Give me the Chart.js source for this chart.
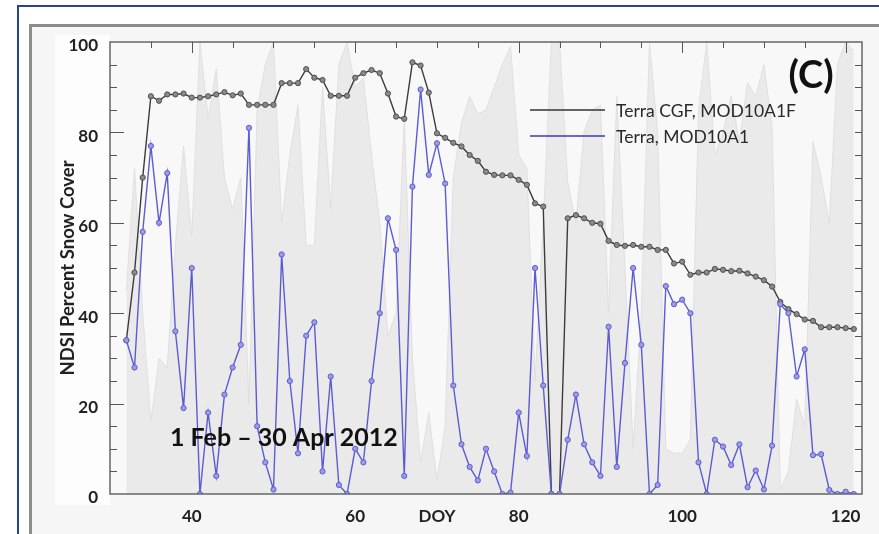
<!DOCTYPE html>
<html>
<head>
<meta charset="utf-8">
<script src="https://cdn.jsdelivr.net/npm/chart.js@4.4.1/dist/chart.umd.min.js"></script>
<style>
  html, body { margin: 0; padding: 0; background: #fff; }
  #wrap { position: relative; width: 879px; height: 534px; overflow: hidden; }
  #outer { position: absolute; left: 17px; top: 5px; width: 900px; height: 600px; border: 2px solid #2a4488; }
  #inner { position: absolute; left: 29px; top: 24px; width: 900px; height: 600px;
           border-left: 3px solid #8c8c8c; border-top: 3px solid #8c8c8c; background: #f6f6f6; }
  #labelbox { position: absolute; left: 55px; top: 35px; width: 55px; height: 470px; background: #fdfdfd; }
  canvas { position: absolute; left: 0; top: 0; }
</style>
</head>
<body>
<div id="wrap">
  <div id="outer"></div>
  <div id="inner"></div>
  <div id="labelbox"></div>
  <canvas id="chart" width="879" height="534"></canvas>
</div>
<script>
// day of year, 1 Feb (32) .. 30 Apr (121) 2012
const firstDoy = 32;

// Terra CGF, MOD10A1F (black)
const cgfValues = [
  34, 49, 70, 88, 87, 88.4, 88.4, 88.6, 87.7, 87.7,
  88, 88.4, 88.9, 88.2, 88.6, 86.1, 86.1, 86.1, 86.1, 90.9,
  90.9, 90.9, 94, 92.1, 91.6, 88.1, 88.1, 88.1, 92.1, 93.1,
  93.8, 93.1, 88.6, 83.5, 83, 95.5, 94.8, 88.8, 79.8, 78.8,
  77.7, 76.9, 75, 73.7, 71.3, 70.6, 70.5, 70.5, 69.5, 68.4,
  64.3, 63.6, 0, 0, 61, 61.7, 61, 60, 59.8, 56,
  55.1, 54.9, 55.1, 54.7, 54.7, 54, 54, 51, 51.4, 48.5,
  49, 49, 49.8, 49.6, 49.3, 49.4, 48.8, 48.1, 47.3, 45.9,
  42.5, 40.9, 39.8, 38.6, 38.3, 36.9, 36.9, 36.9, 36.7, 36.5
];

// Terra, MOD10A1 (blue)
const modValues = [
  34, 28, 58, 77, 60, 71, 36, 19, 50, 0,
  18, 4, 22, 28, 33, 81, 15, 7, 1, 53,
  25, 9, 35, 38, 5, 26, 2, 0, 10, 7,
  25, 40, 61, 54, 4, 68, 89.5, 70.6, 77.6, 68.7,
  24, 11, 6, 3, 10, 5, 0, 0.3, 18, 8.4,
  50, 24, 0, 0, 12, 22, 11, 7, 4, 37,
  6, 29, 50, 33, 0, 2, 46, 42, 43, 40,
  7, 0, 12, 10.5, 6.4, 11, 1.5, 5.2, 1, 10.7,
  42, 40, 26, 32, 8.6, 8.8, 0.9, 0, 0.5, 0
];

// light grey background series (cloud)
const cloudValues = [
  45, 72, 40, 16, 30, 28, 55, 77, 57, 100,
  83, 94, 70, 63, 70, 20, 85, 95, 100, 60,
  75, 86, 55, 55, 90, 63, 95, 100, 90, 92,
  75, 60, 35, 40, 83, 30, 7, 18, 3, 15,
  70, 82, 88, 84, 85, 90, 95, 99, 75, 72,
  25, 60, 100, 100, 69, 60, 80, 85, 86, 40,
  88, 50, 10, 40, 100, 80, 10, 9, 9, 12,
  85, 100, 75, 80, 88, 78, 91, 88, 95, 81,
  1, 5, 21, 15, 78, 70, 60, 95, 100, 98
];

const xTickLabels = { 40: '40', 60: '60', 70: 'DOY', 80: '80', 100: '100', 120: '120' };
const yTickLabels = [0, 20, 40, 60, 80, 100];

const legendItems = [
  { label: 'Terra CGF, MOD10A1F', color: '#333333' },
  { label: 'Terra, MOD10A1', color: '#3b3bb0' }
];

const toPoints = arr => arr.map((v, i) => ({ x: firstDoy + i, y: v }));

const decor = {
  id: 'decor',
  beforeDraw(chart) {
    const { ctx, chartArea: a } = chart;
    ctx.save();
    ctx.fillStyle = '#f8f8f8';
    ctx.fillRect(a.left, a.top, a.right - a.left, a.bottom - a.top);
    ctx.restore();
  },
  afterDatasetsDraw(chart) {
    const { ctx, chartArea: a, scales } = chart;
    ctx.save();
    ctx.strokeStyle = '#666';
    ctx.lineWidth = 1.5;
    ctx.strokeRect(a.left, a.top, a.right - a.left, a.bottom - a.top);

    ctx.lineWidth = 1;
    ctx.strokeStyle = '#555';
    ctx.beginPath();
    for (let d = 35; d <= 120; d += 5) {
      const x = Math.round(scales.x.getPixelForValue(d)) + 0.5;
      const len = d % 20 === 0 ? 11 : 6;
      ctx.moveTo(x, a.top); ctx.lineTo(x, a.top + len);
    }
    for (let v = 5; v < 100; v += 5) {
      const y = Math.round(scales.y.getPixelForValue(v)) + 0.5;
      const len = v % 20 === 0 ? 14 : 7;
      ctx.moveTo(a.left, y); ctx.lineTo(a.left + len, y);
      ctx.moveTo(a.right, y); ctx.lineTo(a.right - 7, y);
    }
    ctx.stroke();

    // legend
    ctx.font = '17.5px Lato';
    ctx.textBaseline = 'middle';
    legendItems.forEach((it, i) => {
      const y = 110 + i * 26;
      ctx.strokeStyle = it.color;
      ctx.lineWidth = 1.5;
      ctx.beginPath();
      ctx.moveTo(530, y); ctx.lineTo(605, y);
      ctx.stroke();
      ctx.fillStyle = '#2a2a2a';
      ctx.fillText(it.label, 616, y + 1);
    });

    ctx.fillStyle = '#111';
    ctx.font = 'bold 38px Lato';
    ctx.textAlign = 'center';
    ctx.fillText('(C)', 811, 76);

    ctx.font = 'bold 25px Lato';
    ctx.textAlign = 'left';
    ctx.fillText('1 Feb \u2013 30 Apr 2012', 170, 438);
    ctx.restore();
  }
};

new Chart(document.getElementById('chart'), {
  type: 'line',
  data: {
    datasets: [
      {
        label: 'Terra, MOD10A1',
        data: toPoints(modValues),
        borderColor: '#5c5cd2',
        borderWidth: 1.4,
        pointRadius: 2.6,
        pointBackgroundColor: '#9c9ce6',
        pointBorderColor: '#5c5cd2',
        pointBorderWidth: 1,
        tension: 0,
        order: 1
      },
      {
        label: 'Terra CGF, MOD10A1F',
        data: toPoints(cgfValues),
        borderColor: '#3c3c3c',
        borderWidth: 1.4,
        pointRadius: 2.6,
        pointBackgroundColor: '#8a8a8a',
        pointBorderColor: '#505050',
        pointBorderWidth: 1,
        tension: 0,
        order: 2
      },
      {
        label: 'cloud',
        data: toPoints(cloudValues),
        borderColor: '#e0e0e0',
        borderWidth: 1,
        backgroundColor: '#eaeaea',
        fill: 'origin',
        pointRadius: 0,
        tension: 0,
        order: 3
      }
    ]
  },
  options: {
    responsive: false,
    animation: false,
    layout: { padding: { top: 42, right: 17, left: 0, bottom: 0 } },
    plugins: { legend: { display: false }, tooltip: { enabled: false } },
    scales: {
      x: {
        type: 'linear',
        min: 30,
        max: 122,
        afterBuildTicks: s => { s.ticks = Object.keys(xTickLabels).map(v => ({ value: +v })); },
        afterFit: s => { s.height = 40; },
        grid: { display: false, drawTicks: false },
        border: { display: false },
        ticks: {
          padding: 12,
          color: '#222',
          font: { family: 'Lato', size: 17, weight: 'bold' },
          maxRotation: 0,
          autoSkip: false,
          callback: v => xTickLabels[v] || ''
        }
      },
      y: {
        min: 0,
        max: 100,
        afterBuildTicks: s => { s.ticks = yTickLabels.map(v => ({ value: v })); },
        afterFit: s => { s.width = 110; },
        grid: { display: false, drawTicks: false },
        border: { display: false },
        ticks: {
          padding: 12,
          labelOffset: 4,
          color: '#222',
          font: { family: 'Lato', size: 17, weight: 'bold' }
        },
        title: {
          display: true,
          text: 'NDSI Percent Snow Cover',
          color: '#222',
          font: { family: 'Lato', size: 18.5, weight: 'bold' },
          padding: { top: 57, bottom: 0 }
        }
      }
    }
  },
  plugins: [decor]
});
</script>
</body>
</html>
